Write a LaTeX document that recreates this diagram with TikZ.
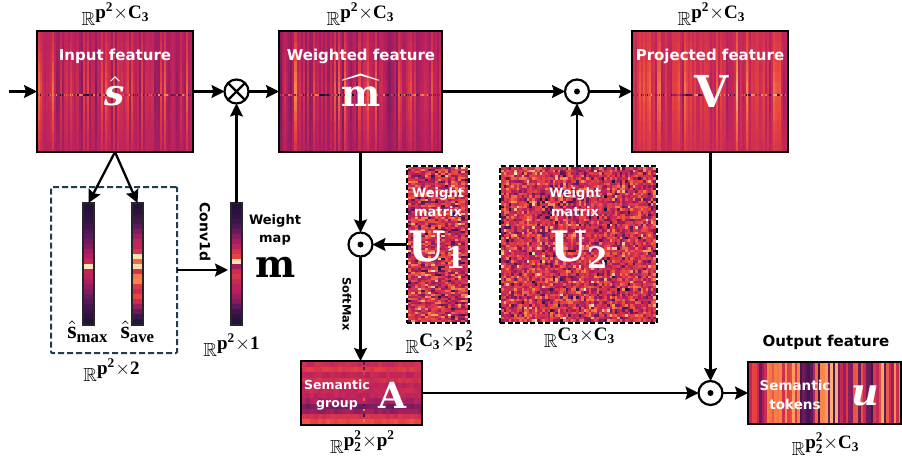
\documentclass[tikz,border=0pt]{standalone}
\usepackage{amsmath,amssymb}
\usepackage{fontspec}
\usepackage{tikz}
\usetikzlibrary{positioning, arrows.meta, calc}
\newfontfamily\handfont{DejaVu Sans}
\newfontfamily\symfont{DejaVu Serif}
\newfontfamily\dimfont{Liberation Serif}

\definecolor{magA}{HTML}{140E30}
\definecolor{magB}{HTML}{5C1A5E}
\definecolor{magC}{HTML}{B81F5F}
\definecolor{magD}{HTML}{E8433F}
\definecolor{magE}{HTML}{F98A4A}
\definecolor{magF}{HTML}{FDF0C8}
\definecolor{poolteal}{HTML}{1F3D4D}

\newcommand{\setheat}[1]{%
  \pgfmathtruncatemacro\heatv{min(99,max(0,#1))}%
  \pgfmathtruncatemacro\heatseg{\heatv/20}%
  \pgfmathtruncatemacro\heatmix{100-(\heatv-20*\heatseg)*5}%
  \ifcase\heatseg\colorlet{heat}{magA!\heatmix!magB}\or\colorlet{heat}{magB!\heatmix!magC}\or
  \colorlet{heat}{magC!\heatmix!magD}\or\colorlet{heat}{magD!\heatmix!magE}\or
  \colorlet{heat}{magE!\heatmix!magF}\fi}
\newcommand{\heatcell}[5]{\setheat{#5}\fill[heat] (#1,#2) rectangle (#3,#4);}
\newcommand{\bsym}[1]{\text{\symfont\bfseries #1}}
\newcommand{\isym}[1]{\text{\symfont\bfseries\itshape #1}}
\newcommand{\dsym}[1]{\text{\dimfont\bfseries #1}}
\newcommand{\realdim}[1]{$\mathbb{R}^{\textstyle #1}$}
% vertical stripes, calm at the top and bottom: x0 y0 x1 y1 base amp
\newcommand{\stripemap}[6]{%
  \pgfmathsetmacro\cellw{(#3-#1)/78}\pgfmathsetmacro\cellh{(#4-#2)/12}%
  \foreach \cx in {0,...,77}{%
    \pgfmathsetmacro\coldev{#6*(0.6*rand+1.5*rnd^5)}%
    \foreach \ry in {0,...,11}{%
      \heatcell{{#1+\cx*\cellw}}{{#2+\ry*\cellh}}{{#1+(\cx+1.2)*\cellw}}{{#2+(\ry+1.1)*\cellh}}{#5+\coldev*(1-abs(\ry-5.5)/9)+rand}
    }
    \pgfmathsetmacro\midy{(#2+#4)/2+2.5}%
    \heatcell{{#1+\cx*\cellw}}{\midy}{{#1+(\cx+0.7)*\cellw}}{\midy+1.5}{#5+45*rand}
  }}
% speckled noise: x0 y0 x1 y1 nx ny
\newcommand{\noisemap}[6]{%
  \pgfmathsetmacro\cellw{(#3-#1)/#5}\pgfmathsetmacro\cellh{(#4-#2)/#6}%
  \pgfmathtruncatemacro\lastx{#5-1}\pgfmathtruncatemacro\lasty{#6-1}%
  \foreach \cx in {0,...,\lastx}{\foreach \ry in {0,...,\lasty}{%
    \heatcell{{#1+\cx*\cellw}}{{#2+\ry*\cellh}}{{#1+(\cx+1.1)*\cellw}}{{#2+(\ry+1.1)*\cellh}}{50+48*rand*abs(rand)+12*rand}
  }}}
% one column of rows: x0 x1 list
\newcommand{\barmap}[3]{%
  \foreach \v [count=\ri from 0] in {#3}{%
    \heatcell{#1}{{204+\ri*5}}{#2}{{204+(\ri+1.1)*5}}{\v}
  }}

\begin{document}
\begin{tikzpicture}[
    x=1pt, y=-1pt,
    container/.style={draw, line width=2.4pt, inner sep=0pt, outer sep=0pt},
    matbox/.style={draw, line width=2.2pt, dash pattern=on 5pt off 2.5pt, inner sep=0pt, outer sep=0pt},
    barbox/.style={draw=black!85, line width=2.2pt, inner sep=0pt, outer sep=0pt, minimum width=11pt, minimum height=122pt},
    opcirc/.style={circle, draw, line width=2.2pt, minimum size=24pt, inner sep=0pt, outer sep=0pt},
    flow/.style={line width=2.3pt, -{Stealth[length=13pt,width=13pt,inset=2pt]}},
    title/.style={font=\handfont\bfseries\fontsize{15}{18}\selectfont, text=white, align=center, inner sep=0pt},
    bigsym/.style={text=white, inner sep=0pt},
    dimlabel/.style={scale=1.9, inner sep=0pt}
]
    \useasboundingbox (0,0) rectangle (902,466);
    \pgfmathsetseed{11}

    % Heat maps
    \stripemap{38}{32}{192}{151}{40}{22}
    \stripemap{280}{32}{441}{151}{37}{25}
    \stripemap{633}{32}{787}{151}{47}{22}
    \noisemap{408}{167}{468}{322}{18}{78}
    \noisemap{501}{167}{656}{322}{60}{60}
    \foreach \v [count=\ri from 0] in {48,56,44,50,42,46,44,38,27,34,52,62}{%
      \foreach \cx in {0,...,29}{%
        \heatcell{{302+\cx*4}}{{362+\ri*5.2}}{{302+(\cx+1.1)*4}}{{362+(\ri+1.1)*5.2}}{\v+4*rand}
      }
      \heatcell{362.5}{{362+\ri*5.2}}{365}{{362+(\ri+0.5)*5.2}}{40+40*rand}
    }
    \foreach \cx in {0,...,59}{%
      \heatcell{{749+\cx*2.54}}{363}{{749+(\cx+1.1)*2.54}}{423}{12+76*rnd}
    }
    \barmap{84}{93}{4,5,7,9,12,16,20,24,28,36,40,46,98,44,42,38,32,28,22,18,14,10,7,4}
    \barmap{133}{142}{5,7,10,14,20,28,36,42,44,52,97,70,96,52,75,78,55,48,60,46,34,22,12,6}
    \barmap{232}{241}{4,6,8,12,16,22,30,36,42,52,60,97,36,48,52,46,42,40,34,28,20,12,8,5}

    % Feature boxes
    \node[container, minimum width=156pt, minimum height=121pt] (input) at (115,91.5) {};
    \node[container, minimum width=163pt, minimum height=121pt] (weighted) at (360.5,91.5) {};
    \node[container, minimum width=156pt, minimum height=121pt] (projected) at (710,91.5) {};
    \node[matbox, minimum width=62pt, minimum height=157pt] (uone) at (438,244.5) {};
    \node[matbox, minimum width=157pt, minimum height=157pt] (utwo) at (578.5,244.5) {};
    \node[container, minimum width=121pt, minimum height=64pt] (group) at (361.5,393) {};
    \node[container, minimum width=153pt, minimum height=62pt] (tokens) at (824.5,393) {};

    % Pooled maps
    \node[barbox] (barmax) at (88.5,264) {};
    \node[barbox] (barave) at (137.5,264) {};
    \node[barbox] (barm) at (236.5,264) {};
    \node[draw=poolteal, line width=2pt, dash pattern=on 6pt off 3pt, rounded corners=1pt, inner sep=0pt, outer sep=0pt,
        minimum width=126pt, minimum height=166pt] (pool) at (114,270) {};

    % Operators
    \node[opcirc] (cross) at (236.5,91.5) {};
    \draw[line width=2.2pt] (cross.north west) -- (cross.south east) (cross.north east) -- (cross.south west);
    \node[opcirc] (dottop) at (577,91.5) {};
    \node[opcirc] (dotmid) at (360.5,244.5) {};
    \node[opcirc] (dotlow) at (710.5,393) {};
    \foreach \op in {dottop, dotmid, dotlow} \fill (\op) circle (3);

    % Connectors
    \coordinate (start) at (9,91.5);
    \draw[flow] (start) -- (input);
    \draw[flow] (input) -- (cross);
    \draw[flow] (cross) -- (weighted);
    \draw[flow] (barm) -- (cross);
    \draw[flow] (input.south) -- (barmax.north);
    \draw[flow] (input.south) -- (barave.north);
    \draw[flow] (pool.east) -- ($(pool.east -| barm.west)-(3,0)$);
    \draw[flow] (weighted) -- (dottop);
    \draw[flow] (dottop) -- (projected);
    \draw[flow] (utwo.north -| dottop) -- (dottop);
    \draw[flow] (weighted.south -| dotmid) -- (dotmid);
    \draw[flow] (uone) -- (dotmid);
    \draw[flow] (dotmid) -- (dotmid |- group.north);
    \draw[flow] (group) -- (dotlow);
    \draw[flow] (projected.south -| dotlow) -- (dotlow);
    \draw[flow] (dotlow) -- (tokens);

    % Texts in the boxes
    \node[title] (inputtxt) at (115,56) {Input feature};
    \node[title] (weightedtxt) at (361,56) {Weighted feature};
    \node[title] (projectedtxt) at (710,56) {Projected feature};
    \node[title, font=\handfont\bfseries\fontsize{13}{19}\selectfont] (uonetxt) at (438,202) {Weight\\matrix};
    \node[title, font=\handfont\bfseries\fontsize{13}{19}\selectfont] (utwotxt) at (575,202) {Weight\\matrix};
    \node[title, font=\handfont\bfseries\fontsize{12.5}{18}\selectfont] (grouptxt) at (337,395) {Semantic\\group};
    \node[title, font=\handfont\bfseries\fontsize{13.5}{19}\selectfont] (tokenstxt) at (795,395) {Semantic\\tokens};
    \node[bigsym, scale=3.6] (shat) at (115,91) {$\hat{\isym{s}}$};
    \node[bigsym, scale=3.7] (mhat) at (361,91) {$\widehat{\bsym{m}}$};
    \node[bigsym, scale=4.4] (vsym) at (712,91) {$\bsym{V}$};
    \node[bigsym, scale=4.2] (uonesym) at (438,250) {$\bsym{U}_{\bsym{1}}$};
    \node[bigsym, scale=4.2] (utwosym) at (580,250) {$\bsym{U}_{\bsym{2}}$};
    \node[bigsym, scale=3.6] (asym) at (392,395) {$\bsym{A}$};
    \node[bigsym, scale=3.8] (usym) at (865,396) {$\isym{u}$};

    % Texts outside
    \node[title, text=black, font=\handfont\bfseries\fontsize{15}{18}\selectfont] (outtxt) at (826,342) {Output feature};
    \node[title, text=black, font=\handfont\bfseries\fontsize{13}{18}\selectfont] (maptxt) at (275,230) {Weight\\map};
    \node[inner sep=0pt, scale=3.8] (msym) at (276,267) {$\bsym{m}$};
    \node[title, text=black, rotate=-90, font=\handfont\bfseries\fontsize{14}{16}\selectfont] (convtxt) at (205,232) {Conv1d};
    \node[title, text=black, rotate=-90, font=\handfont\bfseries\fontsize{11.5}{14}\selectfont] (softtxt) at (347,304) {SoftMax};
    \node[inner sep=0pt, scale=2.4] (maxtxt) at (88,332) {$\hat{\dsym{s}}_{\dsym{max}}$};
    \node[inner sep=0pt, scale=2.4] (avetxt) at (138,332) {$\hat{\dsym{s}}_{\dsym{ave}}$};

    % Sizes
    \node[dimlabel] (dimi) at (116,14) {\realdim{\dsym{p}^{\dsym{2}}{\times}\dsym{C}_{\dsym{3}}}};
    \node[dimlabel] (dimw) at (361,14) {\realdim{\dsym{p}^{\dsym{2}}{\times}\dsym{C}_{\dsym{3}}}};
    \node[dimlabel] (dimp) at (712,14) {\realdim{\dsym{p}^{\dsym{2}}{\times}\dsym{C}_{\dsym{3}}}};
    \node[dimlabel] (dimpool) at (112,370) {\realdim{\dsym{p}^{\dsym{2}}{\times}\dsym{2}}};
    \node[dimlabel] (dimm) at (232,345) {\realdim{\dsym{p}^{\dsym{2}}{\times}\dsym{1}}};
    \node[dimlabel] (dimone) at (440,342) {\realdim{\dsym{C}_{\dsym{3}}{\times}\dsym{p}_{\dsym{2}}^{\dsym{2}}}};
    \node[dimlabel] (dimtwo) at (580,338) {\realdim{\dsym{C}_{\dsym{3}}{\times}\dsym{C}_{\dsym{3}}}};
    \node[dimlabel] (dimgroup) at (363,442) {\realdim{\dsym{p}_{\dsym{2}}^{\dsym{2}}{\times}\dsym{p}^{\dsym{2}}}};
    \node[dimlabel] (dimtok) at (826,444) {\realdim{\dsym{p}_{\dsym{2}}^{\dsym{2}}{\times}\dsym{C}_{\dsym{3}}}};
\end{tikzpicture}
\end{document}
